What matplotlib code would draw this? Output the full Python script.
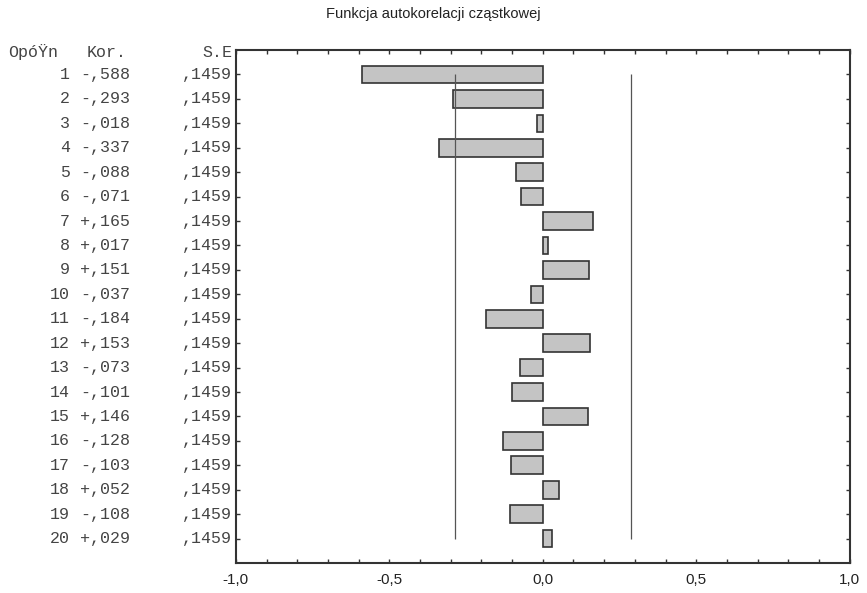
import numpy as np
import matplotlib
matplotlib.use("Agg")
import matplotlib.pyplot as plt
from matplotlib.transforms import blended_transform_factory
from matplotlib.ticker import MultipleLocator, FuncFormatter

# partial autocorrelation table
lags = list(range(1, 21))
pacf = [-0.588, -0.293, -0.018, -0.337, -0.088, -0.071, 0.165, 0.017, 0.151, -0.037,
        -0.184, 0.153, -0.073, -0.101, 0.146, -0.128, -0.103, 0.052, -0.108, 0.029]
pacf_txt = ["-,588", "-,293", "-,018", "-,337", "-,088", "-,071", "+,165", "+,017", "+,151", "-,037",
            "-,184", "+,153", "-,073", "-,101", "+,146", "-,128", "-,103", "+,052", "-,108", "+,029"]
se = 0.1459
se_txt = ",1459"
conf = 1.96 * se

plt.rcParams["font.family"] = ["Liberation Sans", "DejaVu Sans"]

fig = plt.figure(figsize=(8.67, 5.93), dpi=100)
ax = fig.add_axes([0.272, 0.0506, 0.708, 0.865])

ax.barh(lags, pacf, height=0.72, color="#c4c4c4", edgecolor="#333333", linewidth=1.2)
ax.vlines([-conf, conf], lags[0], lags[-1], color="#555555", linewidth=0.9)

ax.set_xlim(-1.0, 1.0)
ax.set_ylim(21.0, 0.0)
ax.xaxis.set_major_locator(MultipleLocator(0.5))
ax.xaxis.set_minor_locator(MultipleLocator(0.1))
ax.xaxis.set_major_formatter(FuncFormatter(lambda v, p: f"{v:.1f}".replace(".", ",")))
ax.set_yticks(lags)
ax.set_yticklabels([])
ax.tick_params(axis="x", which="both", direction="in", top=True, length=3, width=1,
               color="#333333", labelsize=11, pad=7, labelcolor="#222222")
ax.tick_params(axis="y", direction="in", right=True, length=3, width=1, color="#333333")
for sp in ax.spines.values():
    sp.set_linewidth(1.5)
    sp.set_color("#333333")

fig.text(0.5, 0.976, "Funkcja autokorelacji cząstkowej", ha="center", va="center",
         fontsize=10.5, color="#222222")

# left-hand text table
tr = blended_transform_factory(fig.transFigure, ax.transData)
mono = dict(family="Liberation Mono", fontsize=12, color="#444444", va="center", transform=tr)
ax.text(8 / 867, 0.1, "OpóŸn", ha="left", **mono)
ax.text(127 / 867, 0.1, "Kor.", ha="right", **mono)
ax.text(232 / 867, 0.1, "S.E", ha="right", **mono)
for lag, k in zip(lags, pacf_txt):
    ax.text(70 / 867, lag, str(lag), ha="left" if False else "right", **mono)
    ax.text(80 / 867, lag, k, ha="left", **mono)
    ax.text(232 / 867, lag, se_txt, ha="right", **mono)

fig.savefig("out.png", dpi=100)
